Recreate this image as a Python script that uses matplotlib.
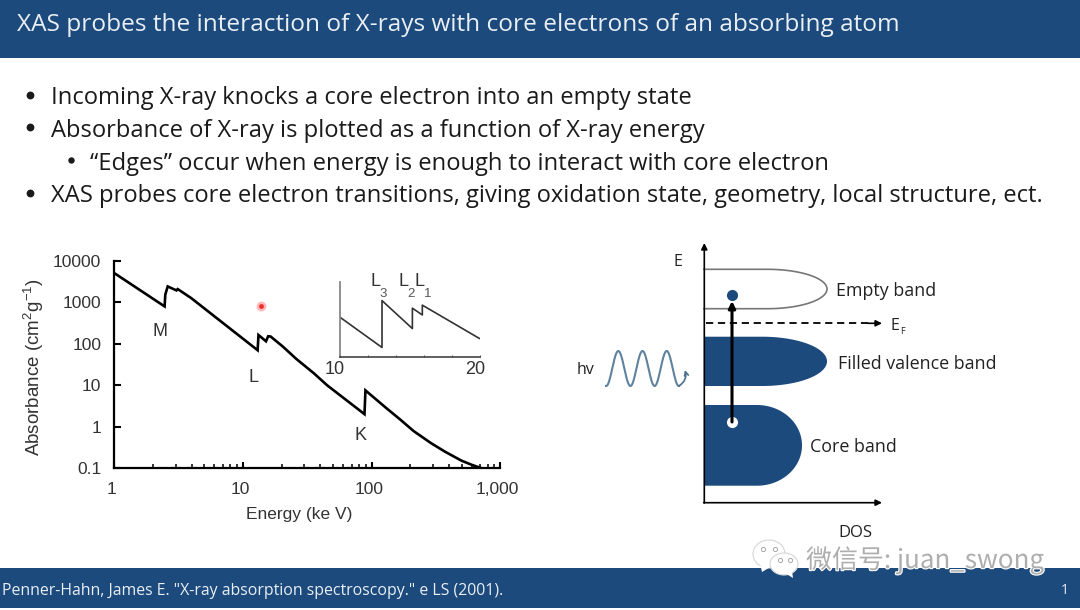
import numpy as np
import matplotlib
matplotlib.use('Agg')
import matplotlib.pyplot as plt
import matplotlib.patheffects as pe
from matplotlib.patches import Rectangle, Polygon, Ellipse
from matplotlib.ticker import NullFormatter, FixedLocator, FixedFormatter
from matplotlib.transforms import ScaledTranslation

plt.rcParams['mathtext.default'] = 'regular'

# slide text
title = 'XAS probes the interaction of X-rays with core electrons of an absorbing atom'
bullets = ['Incoming X-ray knocks a core electron into an empty state',
           'Absorbance of X-ray is plotted as a function of X-ray energy',
           '\u201cEdges\u201d occur when energy is enough to interact with core electron',
           'XAS probes core electron transitions, giving oxidation state, geometry, local structure, ect.']
citation = 'Penner-Hahn, James E. "X-ray absorption spectroscopy." e LS (2001).'

# main absorbance curve
energy = [1, 2.46, 2.49, 2.6, 3.04, 3.11, 3.96, 13.0, 13.2, 15.1, 15.7, 16.4, 20.3, 26, 35.5,
          45, 88, 89.5, 130, 166, 212, 289, 370, 500, 606, 708]
absorbance = [5100, 800, 1530, 2430, 1950, 2100, 1270, 70, 163, 115, 152, 150, 87, 43, 19.5,
              10, 2.0, 7.5, 2.8, 1.5, 0.78, 0.40, 0.25, 0.15, 0.118, 0.1]
y_ticks = [0.1, 1, 10, 100, 1000, 10000]
y_labels = ['0.1', '1', '10', '100', '1000', '10000']
x_ticks = [1, 10, 100, 1000]
x_labels = ['1', '10', '100', '1,000']

# inset, L edges
inset_energy = [10, 13, 13, 15.17, 15.17, 15.88, 15.88, 19.95]
inset_abs = [53, 13, 75, 38, 65, 56, 69, 25]

# band diagram, in slide pixels
band_names = ['Empty band', 'Filled valence band', 'Core band']
band_top = [269.3, 336.7, 405]
band_bottom = [308.7, 386, 485.7]
band_flat = [767, 762, 757]
band_tip = [827, 827, 802]

NAVY = '#1c4a7c'
SLIDE_FONT = ['Open Sans', 'DejaVu Sans']
PLOT_FONT = ['Liberation Sans', 'DejaVu Sans']

fig = plt.figure(figsize=(10.8, 6.1), dpi=100, facecolor='white')

# whole slide axes, coordinates are pixels of the picture
bg = fig.add_axes([0, 0, 1, 1])
bg.set_xlim(0, 1080)
bg.set_ylim(610, 0)
bg.axis('off')

bg.add_patch(Rectangle((0, 0), 1080, 58, color=NAVY, lw=0))
bg.add_patch(Rectangle((0, 568), 1080, 40, color=NAVY, lw=0))
bg.text(17, 25, title, color='#e9eff5', fontsize=17.6, family=SLIDE_FONT, va='center')
bg.text(2, 591, citation, color='#e9eff5', fontsize=11.4, family=SLIDE_FONT, va='center')
bg.text(1065, 590, '1', color='#e9eff5', fontsize=10, family=SLIDE_FONT, va='center', ha='center')

bullet_y = [96, 128.5, 161.5, 194]
bullet_x = [51, 51, 90, 51]
for txt, yy, xx in zip(bullets, bullet_y, bullet_x):
    bg.text(xx, yy + 2.5, txt, color='#1a1a1a', fontsize=17.1, family=SLIDE_FONT, va='center')
    if xx == 51:
        bg.plot(30, yy - 1.5, 'o', color='#1a1a1a', ms=4.6)
    else:
        bg.plot(70.5, yy - 1.5, 'o', color='#1a1a1a', ms=3.6)

# laser pointer dot
bg.plot(261, 306, 'o', color='#ff9a9a', ms=7, alpha=0.7, mew=0)
bg.plot(261, 306, 'o', color='#f03030', ms=3.5, mew=0)


def band(i, fill):
    # flat top and bottom, half ellipse on the right
    top, bot = band_top[i], band_bottom[i]
    mid = (top + bot) / 2
    t = np.linspace(-np.pi / 2, np.pi / 2, 80)
    xs = band_flat[i] + (band_tip[i] - band_flat[i]) * np.cos(t)
    ys = mid + (bot - top) / 2 * np.sin(t)
    xs = np.concatenate([[704], xs, [704]])
    ys = np.concatenate([[top], ys, [bot]])
    if fill:
        bg.fill(xs, ys, color=NAVY, lw=0)
    else:
        bg.plot(xs, ys, color='#777777', lw=1.2)


band(0, False)
band(1, True)
band(2, True)

arrow = dict(arrowstyle='-|>', color='black', lw=1.2, mutation_scale=9, shrinkA=0, shrinkB=0)
bg.annotate('', xy=(704.3, 243), xytext=(704.3, 503), arrowprops=arrow)
bg.annotate('', xy=(882, 502.7), xytext=(703.6, 502.7), arrowprops=arrow)
bg.plot([706, 870], [323.3, 323.3], color='black', lw=1.3, dashes=(4, 2.6))
bg.annotate('', xy=(882, 323.3), xytext=(868, 323.3), arrowprops=arrow)
bg.annotate('', xy=(732, 301), xytext=(732, 422),
            arrowprops=dict(arrowstyle='-|>', color='black', lw=2.2, mutation_scale=10, shrinkA=0, shrinkB=0))
bg.plot(732, 295.3, 'o', color=NAVY, ms=8, mew=0)
bg.plot(732, 421.7, 'o', color='white', ms=8, mew=0)

label_x = [835.5, 838, 810.5]
label_y = [291.5, 364, 447.5]
for name, xx, yy in zip(band_names, label_x, label_y):
    bg.text(xx, yy, name, color='#222222', fontsize=12.9, family=SLIDE_FONT, va='center')
bg.text(678, 262, 'E', color='#222222', fontsize=11.5, family=SLIDE_FONT, va='center', ha='center')
bg.text(891, 326, 'E', color='#222222', fontsize=11.5, family=SLIDE_FONT, va='center')
bg.text(900, 331, 'F', color='#222222', fontsize=6.5, family=SLIDE_FONT, va='center')
bg.text(855.5, 533, 'DOS', color='#222222', fontsize=12, family=SLIDE_FONT, va='center', ha='center')
bg.text(586, 370, 'hv', color='#222222', fontsize=11.5, family=SLIDE_FONT, va='center', ha='center')

# photon wave
wx = np.linspace(606, 679, 200)
wy = 368.5 - 17.5 * np.cos(2 * np.pi * (wx - 618.3) / 24.2)
bg.plot(wx, wy, color='#5f829f', lw=1.5)
bg.annotate('', xy=(685, 370), xytext=(679, 386),
            arrowprops=dict(arrowstyle='->', color='#4a6f8f', lw=1.2, mutation_scale=7,
                            connectionstyle='arc3,rad=0.35', shrinkA=0, shrinkB=0))

# watermark
shade = [pe.withStroke(linewidth=1.6, foreground='white')]
bg.add_patch(Ellipse((769, 554), 32, 28, fc='white', ec='#d6d6d6', lw=0.8, zorder=5))
bg.add_patch(Polygon([[760, 563], [762, 572], [772, 566]], fc='white', ec='none', zorder=5))
bg.add_patch(Ellipse((784, 564), 28, 22, fc='white', ec='#d6d6d6', lw=0.8, zorder=6))
bg.add_patch(Polygon([[785, 573], [793, 578], [792, 571]], fc='white', ec='none', zorder=6))
for xx, yy in [(763, 549), (775, 549), (780, 560), (790, 560)]:
    bg.plot(xx, yy, 'o', mfc='white', mec='#9a9a9a', ms=3, mew=0.6, zorder=7)
bg.text(806, 560, '\u5fae\u4fe1\u53f7: juan_swong', color='#aeaeae', fontsize=18.7,
        family=['Noto Sans CJK SC', 'DejaVu Sans'], va='center', zorder=7, path_effects=shade)

# absorbance plot
ax = fig.add_axes([114.3 / 1080, 1 - 468 / 610, 386 / 1080, 207 / 610], facecolor='none')
ax.plot(energy, absorbance, color='black', lw=1.9, solid_joinstyle='miter')
ax.set_xscale('log')
ax.set_yscale('log')
ax.set_xlim(1, 1000)
ax.set_ylim(0.1, 10000)
for s in ['top', 'right']:
    ax.spines[s].set_visible(False)
for s in ['left', 'bottom']:
    ax.spines[s].set_linewidth(1.6)
ax.yaxis.set_major_locator(FixedLocator(y_ticks))
ax.yaxis.set_major_formatter(FixedFormatter(y_labels))
ax.yaxis.set_minor_locator(FixedLocator([]))
ax.xaxis.set_major_locator(FixedLocator(x_ticks))
ax.xaxis.set_major_formatter(FixedFormatter(x_labels))
ax.xaxis.set_minor_formatter(NullFormatter())
ax.tick_params(axis='y', which='major', direction='in', length=5, width=1.5, pad=9.4,
               labelsize=12.5, labelcolor='#333333')
ax.tick_params(axis='x', which='major', direction='in', length=4.5, width=1.5, pad=10,
               labelsize=12.5, labelcolor='#333333')
ax.tick_params(axis='x', which='minor', direction='in', length=3, width=1.1)
for lab in ax.get_xticklabels() + ax.get_yticklabels():
    lab.set_family(PLOT_FONT)
nudge = ScaledTranslation(-2.5 / 100, 0, fig.dpi_scale_trans)
for lab in ax.get_xticklabels():
    lab.set_transform(lab.get_transform() + nudge)

for name, xx, yy in [('M', 160.5, 332), ('L', 253, 377), ('K', 361, 435)]:
    bg.text(xx, yy, name, color='#333333', fontsize=13, family=PLOT_FONT, va='center', ha='center')
bg.text(299.5, 514.5, 'Energy (ke V)', color='#333333', fontsize=12.5, family=PLOT_FONT, va='center', ha='center')
bg.text(34, 367, 'Absorbance (cm$^2$g$^{-1}$)', color='#333333', fontsize=13.5, family=PLOT_FONT,
        va='center', ha='center', rotation=90)

# inset
ins = fig.add_axes([340 / 1080, 1 - 357.3 / 610, 140 / 1080, 75.6 / 610], facecolor='none')
ins.plot(inset_energy, inset_abs, color='#333333', lw=1.2)
ins.set_xlim(10, 20)
ins.set_ylim(0, 100)
for s in ['top', 'right']:
    ins.spines[s].set_visible(False)
ins.spines['left'].set_color('#888888')
ins.spines['left'].set_linewidth(1.3)
ins.spines['bottom'].set_color('#444444')
ins.spines['bottom'].set_linewidth(1.2)
ins.set_yticks([])
ins.set_xticks([10, 12, 14, 16, 18, 20])
ins.set_xticklabels(['10', '', '', '', '', '20'], family=PLOT_FONT, fontsize=13, color='#333333')
ins.tick_params(axis='x', direction='in', length=1.5, width=0.8, pad=3, color='#555555')
shift = ScaledTranslation(-5 / 100, 0, fig.dpi_scale_trans)
for lab in ins.get_xticklabels():
    lab.set_transform(lab.get_transform() + shift)

for name, sub, xx in [('L', '3', 375), ('L', '2', 403), ('L', '1', 419)]:
    bg.text(xx, 282, name, color='#333333', fontsize=13, family=PLOT_FONT, va='center', ha='center')
    bg.text(xx + 8.5, 294, sub, color='#555555', fontsize=9.5, family=PLOT_FONT, va='center', ha='center')

fig.savefig('out.png', dpi=100)
